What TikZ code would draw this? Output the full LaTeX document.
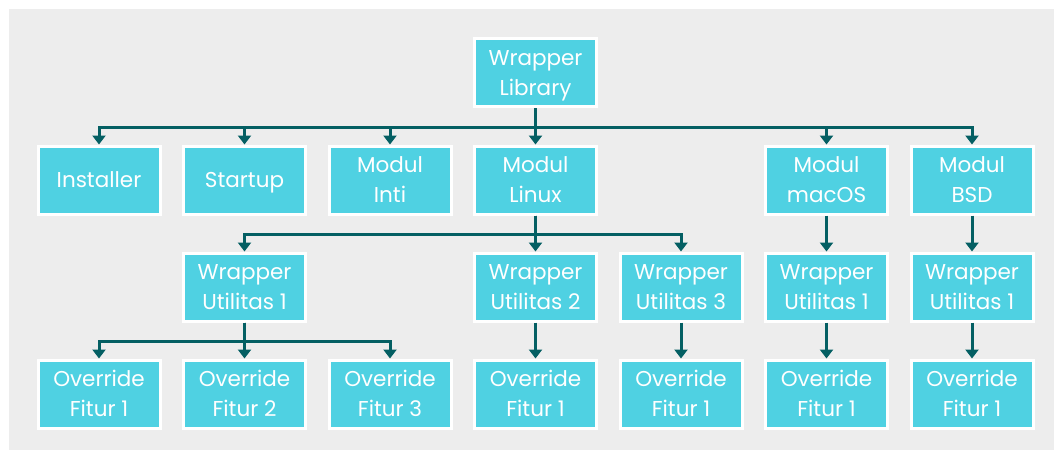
\documentclass[tikz,border=0pt]{standalone}
\usepackage{fontspec}
\setmainfont{Poppins}
\usetikzlibrary{arrows.meta}
\definecolor{boxfill}{HTML}{4FD1E2}
\definecolor{linkcol}{HTML}{045F63}
\definecolor{bgcol}{HTML}{EDEDED}
\tikzset{
  box/.style={draw=white, line width=3pt, fill=boxfill, text=white,
    minimum width=122pt, minimum height=68pt, inner sep=0pt,
    align=center, font=\fontsize{21.5}{30}\selectfont,
    text height=45pt, text depth=0pt},
  box1/.style={box, text height=15pt, text depth=0pt},
  link/.style={draw=linkcol, line width=3pt,
    -{Triangle[width=13pt,length=9pt]}},
}
\begin{document}
\begin{tikzpicture}[x=1pt,y=1pt]
  \useasboundingbox (0,0) rectangle (1054,-450);
  \fill[bgcol] (9,-9) rectangle (1054,-450);

  % top level
  \node[box] (lib) at (535.5,-72.5) {Wrapper\\Library};

  % first level
  \node[box1] (inst)  at (99,-180)    {Installer};
  \node[box1] (start) at (244.5,-180) {Startup};
  \node[box] (inti)  at (390,-180)   {Modul\\Inti};
  \node[box] (linux) at (535.5,-180) {Modul\\Linux};
  \node[box] (mac)   at (826.5,-180) {Modul\\macOS};
  \node[box] (bsd)   at (972,-180)   {Modul\\BSD};

  % second level
  \node[box] (wu1)  at (244.5,-287) {Wrapper\\Utilitas 1};
  \node[box] (wu2)  at (535.5,-287) {Wrapper\\Utilitas 2};
  \node[box] (wu3)  at (681,-287)   {Wrapper\\Utilitas 3};
  \node[box] (wum)  at (826.5,-287) {Wrapper\\Utilitas 1};
  \node[box] (wub)  at (972,-287)   {Wrapper\\Utilitas 1};

  % third level
  \node[box] (of1) at (99,-394)    {Override\\Fitur 1};
  \node[box] (of2) at (244.5,-394) {Override\\Fitur 2};
  \node[box] (of3) at (390,-394)   {Override\\Fitur 3};
  \node[box] (of4) at (535.5,-394) {Override\\Fitur 1};
  \node[box] (of5) at (681,-394)   {Override\\Fitur 1};
  \node[box] (of6) at (826.5,-394) {Override\\Fitur 1};
  \node[box] (of7) at (972,-394)   {Override\\Fitur 1};

  % bus junctions
  \coordinate (busA) at (535.5,-127);
  \coordinate (busB) at (535.5,-234);
  \coordinate (busC) at (244.5,-341);

  % library to modules
  \foreach \n in {inst,start,inti,linux,mac,bsd}
    \draw[link] (lib.south) -- (busA) -| (\n.north);

  % linux to its wrappers
  \foreach \n in {wu1,wu2,wu3}
    \draw[link] (linux.south) -- (busB) -| (\n.north);
  \draw[link] (mac) -- (wum);
  \draw[link] (bsd) -- (wub);

  % wrappers to overrides
  \foreach \n in {of1,of2,of3}
    \draw[link] (wu1.south) -- (busC) -| (\n.north);
  \draw[link] (wu2) -- (of4);
  \draw[link] (wu3) -- (of5);
  \draw[link] (wum) -- (of6);
  \draw[link] (wub) -- (of7);
\end{tikzpicture}
\end{document}
